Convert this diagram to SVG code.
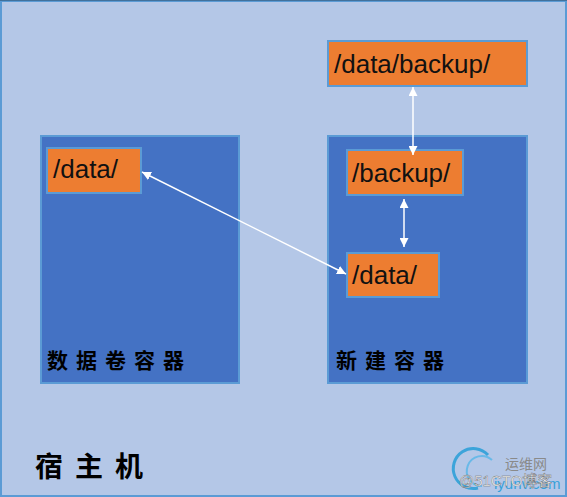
<svg xmlns="http://www.w3.org/2000/svg" width="567" height="497" viewBox="0 0 567 497">
<defs>
<style>
.cont{fill:#4472C4;stroke:#5B9BD5;stroke-width:2}
.dir{fill:#ED7D31;stroke:#5B9BD5;stroke-width:2}
.dt{font-family:"Liberation Sans",Arial,sans-serif;font-size:26px;fill:#111}
.cn{font-family:"Noto Sans CJK SC",sans-serif;font-weight:bold;fill:#000}
.conn{stroke:#fff;stroke-width:1.5;fill:none}
</style>
<marker id="ah" viewBox="0 0 10 10" refX="10" refY="5" markerWidth="9" markerHeight="9" markerUnits="userSpaceOnUse" orient="auto-start-reverse">
<path d="M0,0 L10,5 L0,10 z" fill="#fff"/>
</marker>
</defs>
<rect x="1" y="1" width="565" height="495" fill="#B4C7E7" stroke="#5B9BD5" stroke-width="2"/>
<line x1="0" y1="0.5" x2="567" y2="0.5" stroke="#41719C" stroke-width="1"/>

<g id="host-label">
<text class="cn" x="35" y="477" font-size="28" letter-spacing="12">宿主机</text>
</g>

<g id="volume-container">
<rect class="cont" x="41" y="136" width="198" height="247"/>
<text class="cn" x="47" y="368" font-size="21" letter-spacing="8">数据卷容器</text>
</g>
<g id="vol-data">
<rect class="dir" x="47" y="148" width="94" height="45"/>
<text class="dt" x="53" y="178">/data/</text>
</g>

<g id="new-container">
<rect class="cont" x="328" y="136" width="199" height="247"/>
<text class="cn" x="336" y="368" font-size="21" letter-spacing="8">新建容器</text>
</g>
<g id="new-backup">
<rect class="dir" x="347" y="150" width="116" height="45"/>
<text class="dt" x="352" y="182">/backup/</text>
</g>
<g id="new-data">
<rect class="dir" x="347" y="253" width="92" height="44"/>
<text class="dt" x="352" y="284">/data/</text>
</g>

<g id="host-backup">
<rect class="dir" x="328" y="41" width="199" height="45"/>
<text class="dt" x="334" y="73">/data/backup/</text>
</g>

<g id="connectors">
<line class="conn" x1="413" y1="87" x2="413" y2="155" marker-start="url(#ah)" marker-end="url(#ah)"/>
<line class="conn" x1="404" y1="199" x2="404" y2="247" marker-start="url(#ah)" marker-end="url(#ah)"/>
<line class="conn" x1="142" y1="172" x2="346" y2="274" marker-start="url(#ah)" marker-end="url(#ah)"/>
</g>

<g id="watermark">
<path d="M488,455 A20,20 0 1 0 478,488" fill="none" stroke="#1E9BD7" stroke-width="3" opacity="0.8"/>
<path d="M492,460 A15,15 0 1 0 482,486" fill="none" stroke="#48B4E8" stroke-width="2" opacity="0.7"/>
<text x="505" y="469" font-family="Noto Sans CJK SC,sans-serif" font-size="14" fill="#8A8A8A">运维网</text>
<text x="494" y="489" font-family="Liberation Sans,Arial,sans-serif" font-size="15" fill="#1E9BD7" opacity="0.85">iyunv.com</text>
<text x="459" y="486" font-family="Liberation Sans,Noto Sans CJK SC,sans-serif" font-size="15" fill="#fff" stroke="#666" stroke-width="0.4">@51CTO博客</text>
</g>
</svg>
